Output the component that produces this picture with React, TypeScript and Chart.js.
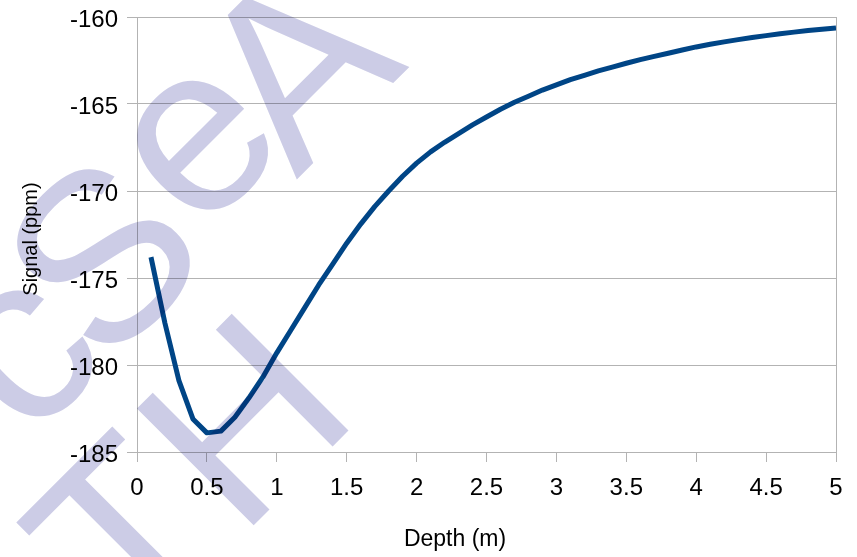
import React, { useEffect, useRef } from "react";
import { Chart, registerables } from "chart.js";

Chart.register(...registerables);

// Depth (m) sample positions
const depth: number[] = [
  0.1, 0.2, 0.3, 0.4, 0.5, 0.6, 0.7, 0.8, 0.9, 1.0,
  1.1, 1.2, 1.3, 1.4, 1.5, 1.6, 1.7, 1.8, 1.9, 2.0,
  2.1, 2.2, 2.3, 2.4, 2.5, 2.6, 2.7, 2.8, 2.9, 3.0,
  3.1, 3.2, 3.3, 3.4, 3.5, 3.6, 3.7, 3.8, 3.9, 4.0,
  4.1, 4.2, 4.3, 4.4, 4.5, 4.6, 4.7, 4.8, 4.9, 5.0,
];

// Signal (ppm)
const signal: number[] = [
  -173.8, -177.6, -180.9, -183.1, -183.9, -183.8, -183.0, -181.9, -180.7, -179.3,
  -178.0, -176.7, -175.4, -174.2, -173.0, -171.9, -170.9, -170.0, -169.15, -168.4,
  -167.75, -167.2, -166.7, -166.2, -165.75, -165.3, -164.9, -164.55, -164.2, -163.9,
  -163.6, -163.35, -163.1, -162.88, -162.66, -162.45, -162.26, -162.08, -161.9, -161.72,
  -161.57, -161.43, -161.3, -161.18, -161.07, -160.96, -160.87, -160.78, -160.7, -160.63,
];

const xTitle = "Depth (m)";
const yTitle = "Signal (ppm)";

// Decorative watermark glyphs (text, centre x, centre y)
const watermarkGlyphs: [string, number, number][] = [
  ["c", 27, 357],
  ["S", 99, 253],
  ["e", 202, 146],
  ["A", 292, 62],
  ["T", 120, 530],
  ["H", 240, 417],
];

const FONT = '"Liberation Sans", Arial, sans-serif';
const GRID = "#b3b3b3";

const titlesPlugin = {
  id: "axisTitles",
  afterDraw(chart: any) {
    const ctx = chart.ctx as CanvasRenderingContext2D;
    ctx.save();
    ctx.fillStyle = "#000";
    ctx.textAlign = "center";
    ctx.textBaseline = "middle";
    ctx.font = `23px ${FONT}`;
    ctx.fillText(xTitle, 455, 540);
    ctx.translate(31, 239);
    ctx.rotate(-Math.PI / 2);
    ctx.font = `20px ${FONT}`;
    ctx.fillText(yTitle, 0, 0);
    ctx.restore();
  },
};

const watermarkPlugin = {
  id: "watermark",
  afterDraw(chart: any) {
    const ctx = chart.ctx as CanvasRenderingContext2D;
    const size = 240;
    ctx.save();
    ctx.globalCompositeOperation = "multiply";
    ctx.fillStyle = "rgb(204,204,230)";
    ctx.font = `${size}px ${FONT}`;
    ctx.textAlign = "center";
    ctx.textBaseline = "alphabetic";
    for (const [ch, x, y] of watermarkGlyphs) {
      const upper = ch === ch.toUpperCase();
      ctx.save();
      ctx.translate(x, y);
      ctx.rotate(-Math.PI / 4);
      ctx.fillText(ch, 0, (upper ? 0.36 : 0.26) * size);
      ctx.restore();
    }
    ctx.restore();
  },
};

export default function App() {
  const ref = useRef<HTMLCanvasElement | null>(null);

  useEffect(() => {
    if (!ref.current) return;
    const chart = new Chart(ref.current, {
      type: "line",
      data: {
        datasets: [
          {
            data: depth.map((x, i) => ({ x, y: signal[i] })),
            borderColor: "#004586",
            borderWidth: 5,
            pointRadius: 0,
            tension: 0,
            fill: false,
            borderJoinStyle: "round",
            borderCapStyle: "butt",
          },
        ],
      },
      options: {
        animation: false,
        responsive: false,
        devicePixelRatio: 1,
        layout: { padding: { left: 0, right: 21, top: 17, bottom: 0 } },
        plugins: { legend: { display: false }, tooltip: { enabled: false } },
        scales: {
          x: {
            type: "linear",
            min: 0,
            max: 5,
            ticks: {
              stepSize: 0.5,
              autoSkip: false,
              maxRotation: 0,
              color: "#000",
              padding: 12,
              font: { family: FONT, size: 24 },
              callback: (v: any) => String(Math.round(Number(v) * 10) / 10),
            },
            grid: {
              color: (c: any) => (c.tick && c.tick.value === 5 ? GRID : "rgba(0,0,0,0)"),
              tickColor: GRID,
              tickLength: 10,
              lineWidth: 1,
            },
            border: { color: GRID },
            afterFit: (s: any) => {
              s.height = 105;
              s.paddingLeft = 0;
              s.paddingRight = 0;
            },
          },
          y: {
            type: "linear",
            min: -185,
            max: -160,
            ticks: {
              stepSize: 5,
              color: "#000",
              padding: 9,
              labelOffset: 3,
              font: { family: FONT, size: 24 },
            },
            grid: { color: GRID, tickLength: 10, lineWidth: 1 },
            border: { color: GRID },
            afterFit: (s: any) => {
              s.width = 137;
              s.paddingTop = 0;
              s.paddingBottom = 0;
            },
          },
        },
      } as any,
      plugins: [titlesPlugin, watermarkPlugin],
    });
    return () => chart.destroy();
  }, []);

  return (
    <div style={{ position: "absolute", left: 0, top: 0, width: 857, height: 557, background: "#fff" }}>
      <canvas ref={ref} width={857} height={557} />
    </div>
  );
}
